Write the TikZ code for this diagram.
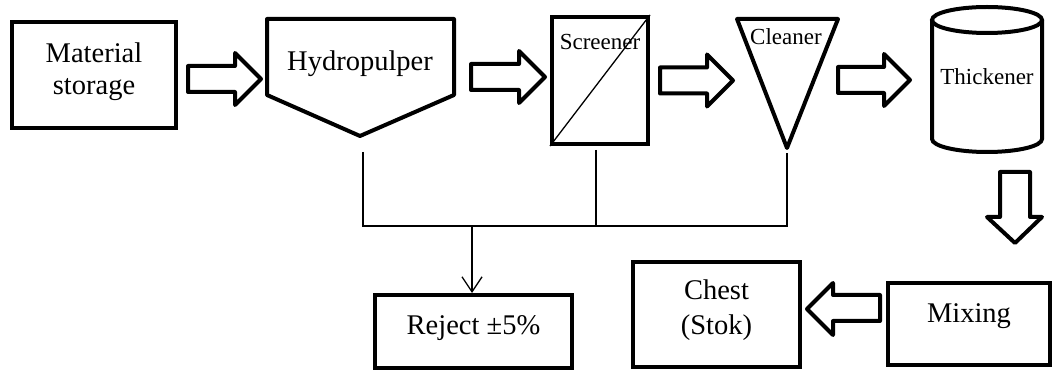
\documentclass[tikz,border=0pt]{standalone}
\usepackage{fontspec}
\setmainfont{Liberation Serif}
\usetikzlibrary{arrows.meta,calc}
\tikzset{
  fatarrow/.style={draw, line width=4pt, line join=round, fill=white},
  thin/.style={line width=1.3pt},
  bigtxt/.style={font=\fontsize{28.5}{32}\selectfont, inner sep=0pt},
  smalltxt/.style={font=\fontsize{23}{27}\selectfont, inner sep=0pt},
  boxstyle/.style={draw, line width=4pt, inner sep=0pt},
}
\newcommand\fatarr[3]{\draw[fatarrow,shift={#1}] (0,-13) -- (#3-26,-13) -- (#3-26,-26) -- (#3,0) -- (#3-26,26) -- (#3-26,13) -- (0,13) -- cycle;}
\begin{document}
\begin{tikzpicture}[x=1pt,y=-1pt]
\useasboundingbox (0,0) rectangle (1053,371);
% boxes
\node[boxstyle, minimum width=164pt, minimum height=106pt] (ms) at (94,75) {};
\node[bigtxt, anchor=base] (mstxt1) at (94,63) {Material};
\node[bigtxt, anchor=base] (mstxt2) at (94,95) {storage};
% hydropulper
\draw[line width=4pt, line join=round] (267,19) -- (454,19) -- (454,95) -- (360,136) -- (267,95) -- cycle;
\coordinate (hp) at (360,136);
\node[bigtxt, anchor=base] (hptxt) at (360,71) {Hydropulper};
% screener
\node[boxstyle, minimum width=96pt, minimum height=127pt] (sc) at (600,80.5) {};
\draw[line width=1.3pt] (sc.south west) -- (sc.north east);
\node[smalltxt, anchor=base] (sctxt) at (600,50) {Screener};
% cleaner
\draw[line width=4pt, line join=round] (737,19) -- (838,19) -- (787,148) -- cycle;
\coordinate (cl) at (787,148);
\node[smalltxt, anchor=base] (cltxt) at (786,45) {Cleaner};
% thickener
\draw[line width=4pt] (932,20) -- (932,139) arc[start angle=180, end angle=0, x radius=55, y radius=13] -- (1042,20);
\draw[line width=4pt] (987,20) ellipse[x radius=55, y radius=13];
\node[smalltxt, anchor=base] (thtxt) at (987,85) {Thickener};
% bottom boxes
\node[boxstyle, minimum width=162pt, minimum height=82pt] (mx) at (969,324) {};
\node[bigtxt, anchor=base] (mxtxt) at (969,323) {Mixing};
\node[boxstyle, minimum width=167pt, minimum height=105pt] (ch) at (716.5,314.5) {};
\node[bigtxt, anchor=base] (chtxt1) at (716.5,300) {Chest};
\node[bigtxt, anchor=base] (chtxt2) at (716.5,335) {(Stok)};
\node[boxstyle, minimum width=197pt, minimum height=73pt] (rj) at (473.5,331.5) {};
\node[bigtxt, anchor=base] (rjtxt) at (473.5,335) {Reject ±5\%};
% fat arrows
\fatarr{(188,79)}{0}{73}
\fatarr{(471,77)}{0}{74}
\fatarr{(660,80.5)}{0}{73}
\fatarr{(838,80)}{0}{72}
\draw[fatarrow] (1000,172) -- (1030,172) -- (1030,217) -- (1042,217) -- (1015,243) -- (987,217) -- (1000,217) -- cycle;
\draw[fatarrow] (880,295) -- (833,295) -- (833,283) -- (807,309) -- (833,335) -- (833,321) -- (880,321) -- cycle;
% reject lines
\coordinate (j1) at (363,226);
\coordinate (j2) at (596,226);
\coordinate (j3) at (787,226);
\coordinate (jr) at (472,226);
\draw[thin] (363,152) -- (j1) -- (j3) -- (787,153);
\draw[thin] (596,150) -- (j2);
\draw[thin, -{Straight Barb[length=15pt,width=20pt,line width=1.3pt]}] (jr) -- (rj.north -| jr);
\end{tikzpicture}
\end{document}
